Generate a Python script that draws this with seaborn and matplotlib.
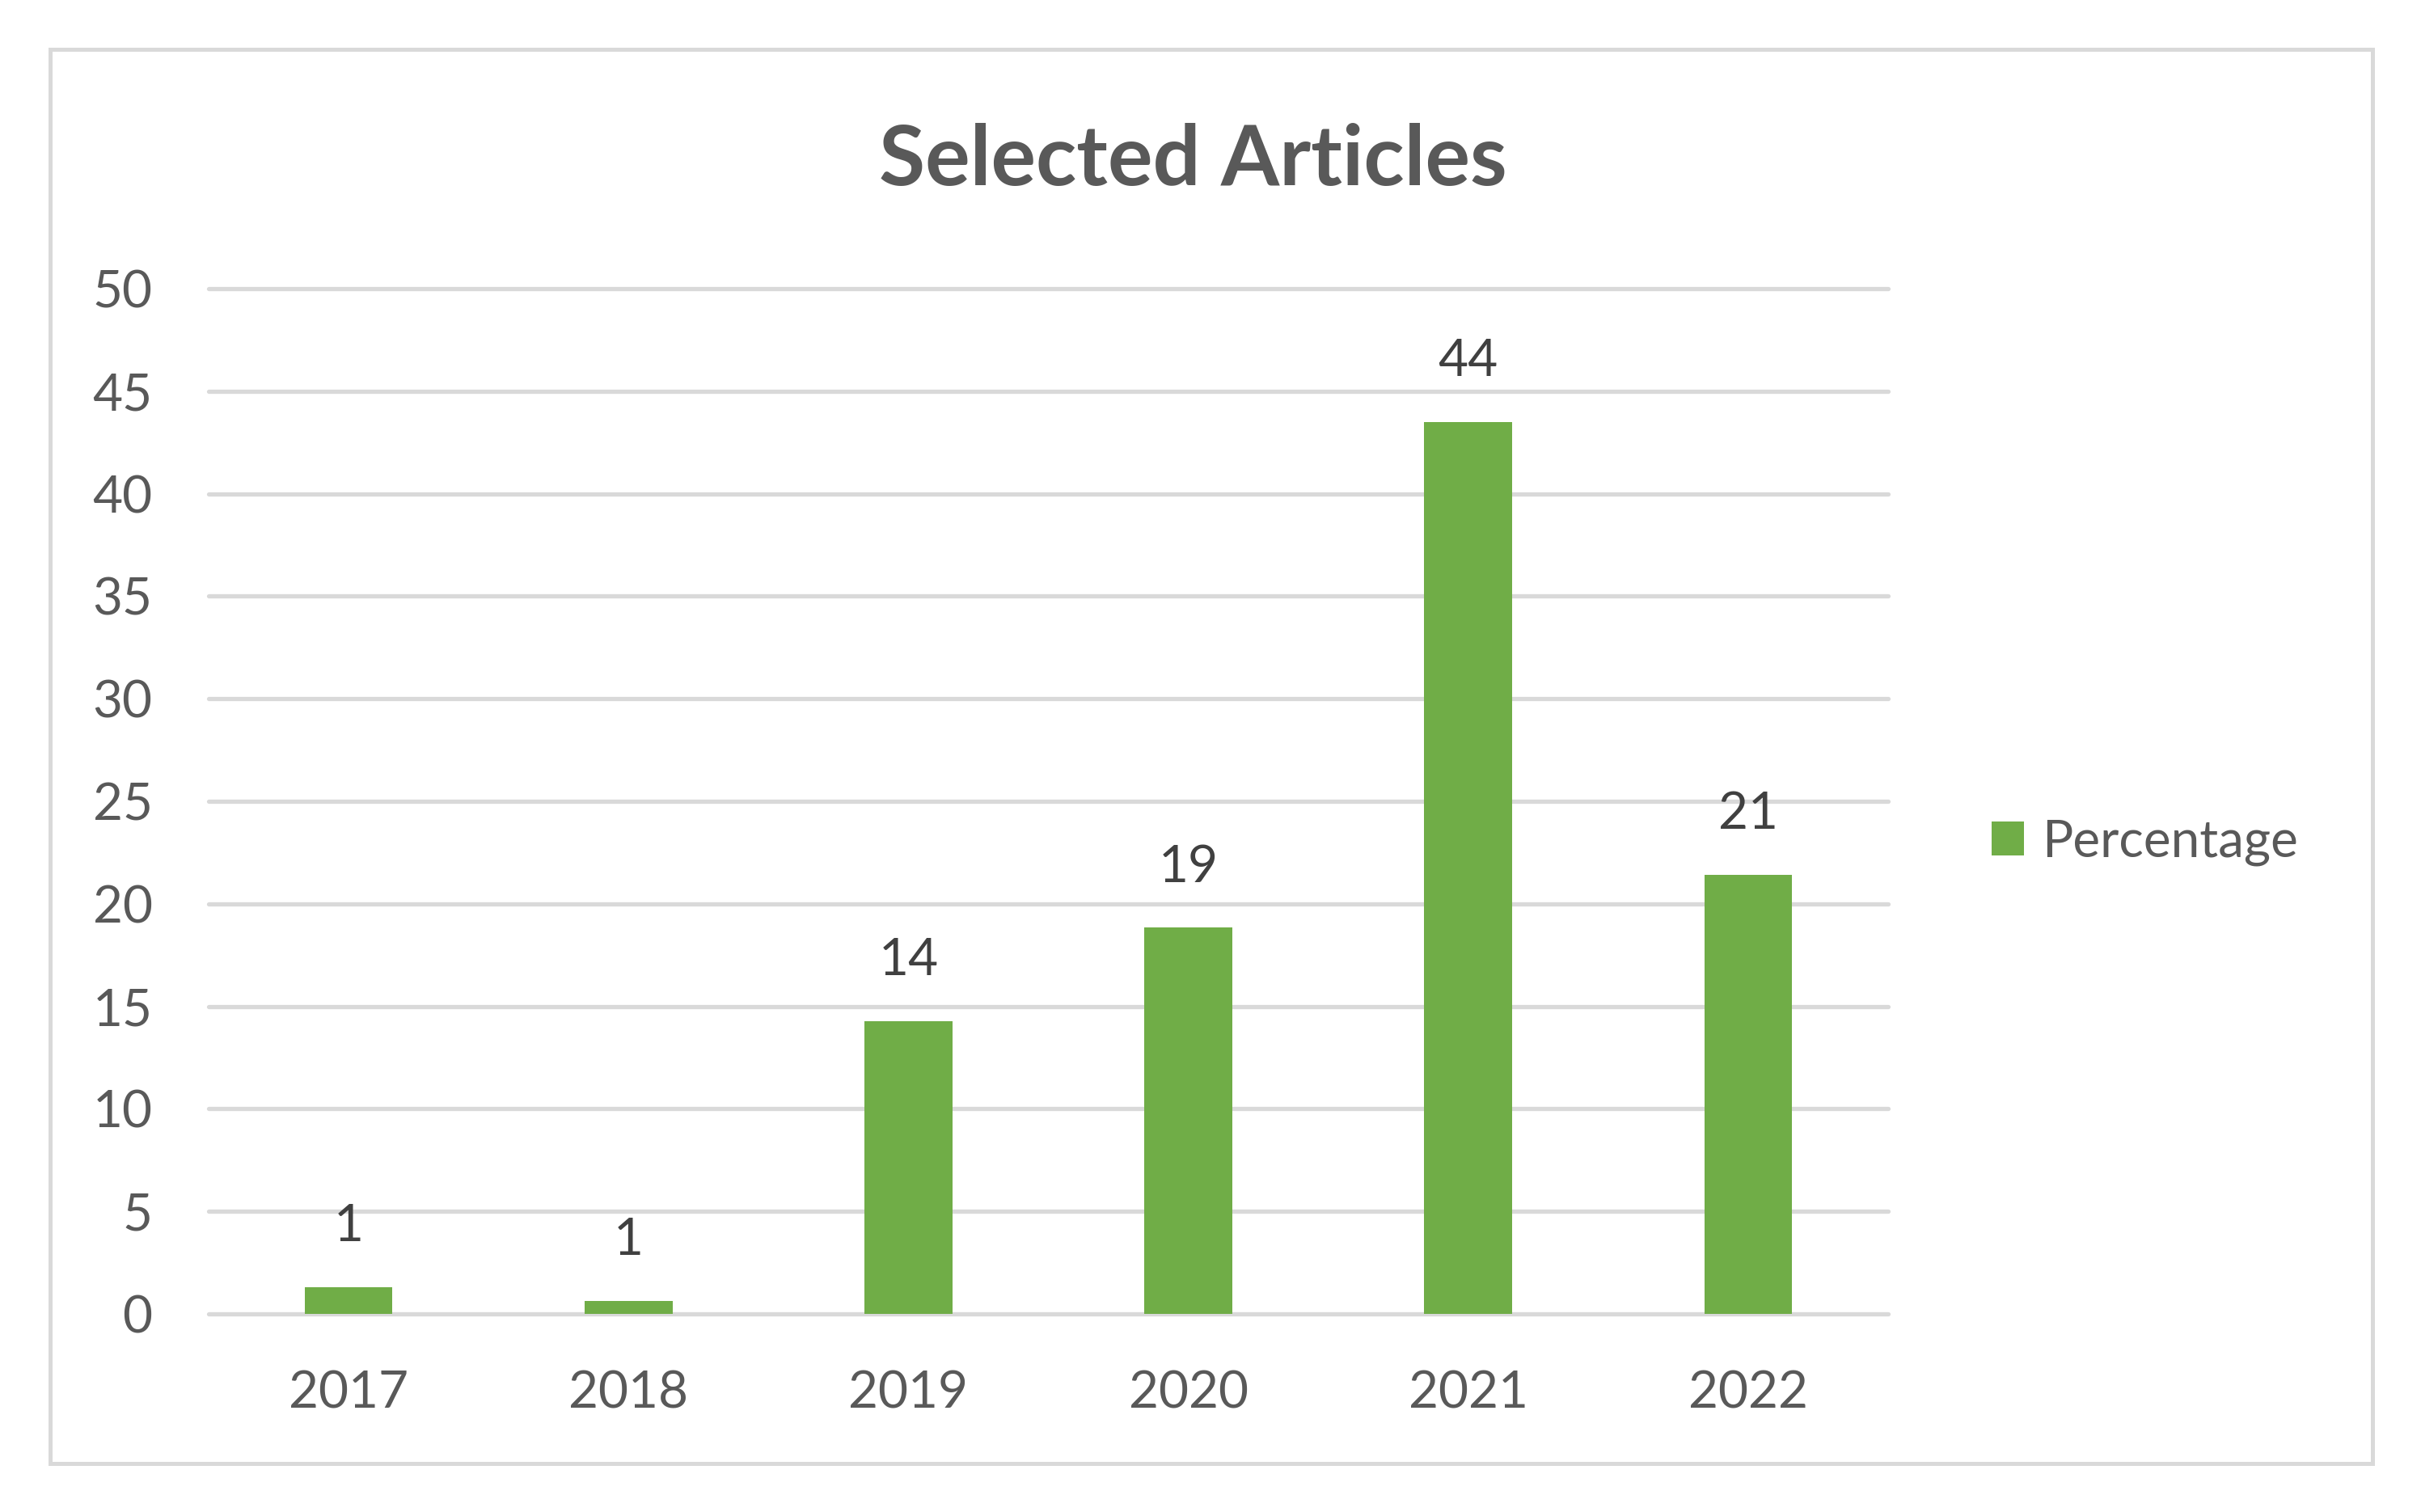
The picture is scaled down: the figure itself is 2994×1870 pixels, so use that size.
import numpy as np
import pandas as pd
import matplotlib
matplotlib.use('Agg')
import matplotlib.pyplot as plt
import seaborn as sns
from matplotlib.patches import Rectangle

# ---- data ----
years = ['2017', '2018', '2019', '2020', '2021', '2022']
percentage = [1.30, 0.65, 14.29, 18.83, 43.51, 21.43]
series_name = 'Percentage'
chart_title = 'Selected Articles'
y_ticks = [0, 5, 10, 15, 20, 25, 30, 35, 40, 45, 50]

sns.set_style('white')
plt.rcParams['font.family'] = ['Lato', 'DejaVu Sans']

W, H = 2994, 1870
fig = plt.figure(figsize=(W / 100, H / 100), dpi=100)
fig.patch.set_facecolor('white')

ax = fig.add_axes([258 / W, 1 - 1625 / H, (2335 - 258) / W, (1625 - 357) / H])

df = pd.DataFrame({'Year': years, 'Value': percentage, 'Series': series_name})
sns.barplot(data=df, x='Year', y='Value', hue='Series',
            palette={series_name: '#70AD47'}, saturation=1, width=0.314,
            dodge=False, linewidth=0, ax=ax, zorder=2)

ax.set_xlim(-0.5, 5.5)
ax.set_ylim(0, 50)
ax.set_yticks(y_ticks)
ax.set_xlabel('')
ax.set_ylabel('')
for s in ax.spines.values():
    s.set_visible(False)
ax.yaxis.grid(True, color='#D9D9D9', lw=3.8)
ax.xaxis.grid(False)
ax.set_axisbelow(True)
for gl in ax.get_ygridlines():
    gl.set_clip_on(False)
ax.tick_params(axis='both', length=0, labelsize=46, colors='#595959')
ax.tick_params(axis='y', pad=50)
ax.tick_params(axis='x', pad=50)

for i, v in enumerate(percentage):
    ax.annotate(f'{v:.0f}', (i, v), xytext=(0, 41), textcoords='offset points',
                ha='center', va='baseline', fontsize=46, color='#404040')

handles, labels = ax.get_legend_handles_labels()
if ax.get_legend() is not None:
    ax.get_legend().remove()
fig.legend(handles, labels, loc='center left',
           bbox_to_anchor=(2463 / W, 1 - 1042 / H), frameon=False,
           fontsize=46, handlelength=0.625, handleheight=0.625,
           handletextpad=0.34, borderpad=0, borderaxespad=0,
           labelcolor='#595959')

fig.text(1475 / W, 1 - 229 / H, chart_title, ha='center', va='baseline',
         fontsize=75, fontweight='bold', color='#595959')

fig.patches.append(Rectangle((62 / W, 1 - 1810 / H), (2934 - 62) / W,
                             (1810 - 61) / H, transform=fig.transFigure,
                             fill=False, edgecolor='#D9D9D9', lw=3.6))

fig.savefig('out.png', dpi=100, facecolor='white')
